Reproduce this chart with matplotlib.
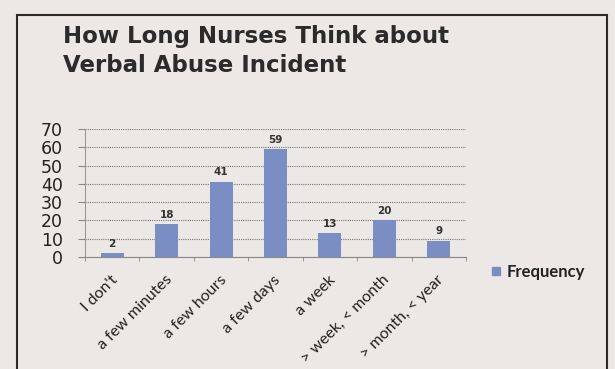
import matplotlib.pyplot as plt
from matplotlib.patches import Rectangle
from matplotlib.transforms import ScaledTranslation

categories = ["I don't", 'a few minutes', 'a few hours', 'a few days',
              'a week', '> week, < month', '> month, < year']
frequency = [2, 18, 41, 59, 13, 20, 9]
yticks = [0, 10, 20, 30, 40, 50, 60, 70]

bg = '#ebe8e5'
bar_color = '#7b8ec4'

fig = plt.figure(figsize=(6.15, 3.69), dpi=100)
fig.patch.set_facecolor(bg)

# frame around the chart (runs off the bottom of the scan)
fig.patches.append(Rectangle((17 / 615, -0.1), 590 / 615, 1 - 15 / 369 + 0.1,
                             transform=fig.transFigure, fill=False,
                             edgecolor='#2a2a2a', linewidth=1.5))

# axes in pixel coordinates: left 85, right 466, top 129, bottom 257
ax = fig.add_axes([85 / 615, 1 - 257 / 369, (466 - 85) / 615, (257 - 129) / 369])
ax.set_facecolor(bg)

x = list(range(len(categories)))
ax.bar(x, frequency, width=0.42, color=bar_color, zorder=3)
for xi, v in zip(x, frequency):
    ax.text(xi, v + 2.5, str(v), ha='center', va='bottom', fontsize=7.5,
            fontweight='bold', color='#333333')

ax.set_xlim(-0.5, len(categories) - 0.5)
ax.set_ylim(0, 70)
ax.set_yticks(yticks)
ax.set_yticklabels([str(t) for t in yticks], fontsize=12.5, color='#222222')
ax.tick_params(axis='y', length=5, color='#888888', pad=11)
ax.yaxis.grid(True, linestyle=(0, (1, 1)), color='#777777', linewidth=0.8, zorder=0)

ax.set_xticks([i - 0.5 for i in range(len(categories) + 1)], minor=True)
ax.set_xticks(x)
ax.set_xticklabels(categories, rotation=45, ha='right', va='center',
                   rotation_mode='anchor', fontsize=11.5, color='#222222',
                   family='Lato')
ax.tick_params(axis='x', which='major', length=0, pad=15)
ax.tick_params(axis='x', which='minor', length=3, color='#888888')
# nudge labels slightly right, as in the original
shift = ScaledTranslation(3 / 100, 0, fig.dpi_scale_trans)
for lab in ax.get_xticklabels():
    lab.set_transform(lab.get_transform() + shift)

for s in ['top', 'right']:
    ax.spines[s].set_visible(False)
ax.spines['left'].set_color('#999999')
ax.spines['bottom'].set_color('#888888')
ax.spines['left'].set_linewidth(0.8)

fig.text(63 / 615, 1 - 43 / 369, 'How Long Nurses Think about',
         ha='left', va='baseline', fontsize=16.5, fontweight='bold',
         color='#2b2b2b')
fig.text(63 / 615, 1 - 72 / 369, 'Verbal Abuse Incident',
         ha='left', va='baseline', fontsize=16.5, fontweight='bold',
         color='#2b2b2b')

# legend
fig.patches.append(Rectangle((492 / 615, 1 - 275 / 369), 8 / 615, 8 / 369,
                             transform=fig.transFigure, color=bar_color))
fig.text(507 / 615, 1 - 277 / 369, 'Frequency', ha='left', va='baseline',
         fontsize=12, fontweight='bold', color='#222222', family='Lato')

plt.savefig('out.png', dpi=100, facecolor=bg)
